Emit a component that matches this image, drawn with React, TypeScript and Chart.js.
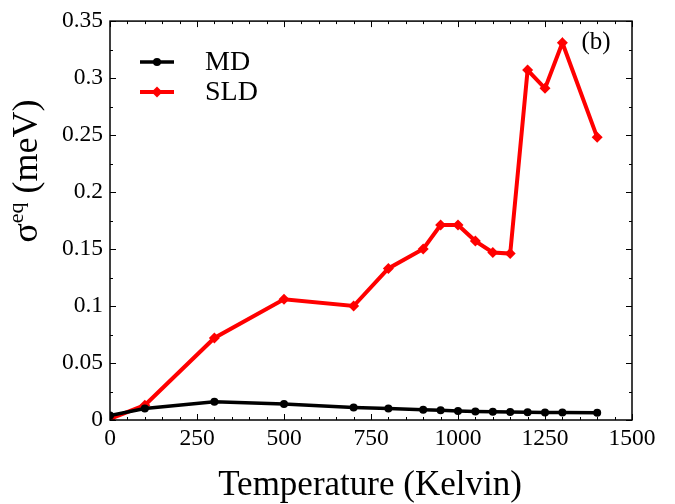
import React, { useEffect, useRef } from "react";
import { Chart, registerables } from "chart.js";

Chart.register(...registerables);

const temperatures = [0, 100, 300, 500, 700, 800, 900, 950, 1000, 1050, 1100, 1150, 1200, 1250, 1300, 1400];
const mdValues = [0.004, 0.010, 0.016, 0.014, 0.011, 0.010, 0.009, 0.0085, 0.008, 0.0075, 0.0072, 0.007, 0.0068, 0.0066, 0.0065, 0.0063];
const sldValues = [0.001, 0.013, 0.072, 0.106, 0.100, 0.133, 0.150, 0.171, 0.171, 0.157, 0.147, 0.146, 0.307, 0.291, 0.331, 0.248];
const xTicks = [0, 250, 500, 750, 1000, 1250, 1500];
const yTicks = [0, 0.05, 0.1, 0.15, 0.2, 0.25, 0.3, 0.35];
const seriesNames = ["MD", "SLD"];
const xTitle = "Temperature (Kelvin)";
const panelLabel = "(b)";

const FONT = "'Liberation Serif', 'Times New Roman', serif";

const framePlugin = {
  id: "frameAndText",
  afterDatasetsDraw(chart: any) {
    const { ctx, chartArea: a, scales } = chart;
    const xs = scales.x;
    const ys = scales.y;
    ctx.save();
    ctx.strokeStyle = "#000";
    ctx.lineWidth = 1.5;
    ctx.strokeRect(a.left, a.top, a.right - a.left, a.bottom - a.top);
    ctx.lineWidth = 1;
    for (let v = 0; v <= 1500; v += 50) {
      const px = Math.round(xs.getPixelForValue(v)) + 0.5;
      const len = v % 250 === 0 ? 6 : 3;
      ctx.beginPath();
      ctx.moveTo(px, a.bottom);
      ctx.lineTo(px, a.bottom - len);
      ctx.moveTo(px, a.top);
      ctx.lineTo(px, a.top + len);
      ctx.stroke();
    }
    for (let i = 0; i <= 14; i++) {
      const v = i * 0.025;
      const py = Math.round(ys.getPixelForValue(v)) + 0.5;
      const len = i % 2 === 0 ? 6 : 3;
      ctx.beginPath();
      ctx.moveTo(a.left, py);
      ctx.lineTo(a.left + len, py);
      ctx.moveTo(a.right, py);
      ctx.lineTo(a.right - len, py);
      ctx.stroke();
    }
    const ds = chart.data.datasets;
    const legendY = [62, 92];
    ds.forEach((d: any, i: number) => {
      const y = legendY[i];
      ctx.strokeStyle = d.borderColor;
      ctx.lineWidth = d.borderWidth;
      ctx.beginPath();
      ctx.moveTo(140, y);
      ctx.lineTo(174, y);
      ctx.stroke();
      ctx.fillStyle = d.borderColor;
      ctx.beginPath();
      if (d.pointStyle === "rectRot") {
        const r = d.pointRadius;
        ctx.moveTo(157, y - r);
        ctx.lineTo(157 + r, y);
        ctx.lineTo(157, y + r);
        ctx.lineTo(157 - r, y);
        ctx.closePath();
      } else {
        ctx.arc(157, y, d.pointRadius, 0, Math.PI * 2);
      }
      ctx.fill();
      ctx.fillStyle = "#000";
      ctx.font = `28px ${FONT}`;
      ctx.textBaseline = "middle";
      ctx.textAlign = "left";
      ctx.fillText(d.label, 205, y + 1);
    });
    ctx.font = `25px ${FONT}`;
    ctx.textAlign = "center";
    ctx.textBaseline = "alphabetic";
    ctx.fillStyle = "#000";
    ctx.fillText(panelLabel, 596, 49);
    ctx.font = `35px ${FONT}`;
    ctx.fillText(xTitle, (a.left + a.right) / 2 - 1, 495);
    ctx.translate(37, 171);
    ctx.rotate(-Math.PI / 2);
    const big = `36px ${FONT}`;
    const small = `22px ${FONT}`;
    ctx.font = big;
    const w1 = ctx.measureText("σ").width;
    const w3 = ctx.measureText(" (meV)").width;
    ctx.font = small;
    const w2 = ctx.measureText("eq").width;
    const x0 = -(w1 + w2 + w3) / 2;
    ctx.textAlign = "left";
    ctx.font = big;
    ctx.fillText("σ", x0, 0);
    ctx.font = small;
    ctx.fillText("eq", x0 + w1, -14);
    ctx.font = big;
    ctx.fillText(" (meV)", x0 + w1 + w2, 0);
    ctx.restore();
  },
};

export default function App() {
  const ref = useRef<HTMLCanvasElement>(null);
  useEffect(() => {
    const md = temperatures.map((t, i) => ({ x: t, y: mdValues[i] }));
    const sld = temperatures.map((t, i) => ({ x: t, y: sldValues[i] }));
    const chart = new Chart(ref.current!, {
      type: "line",
      data: {
        datasets: [
          {
            label: seriesNames[0],
            data: md,
            borderColor: "#000000",
            backgroundColor: "#000000",
            borderWidth: 3.5,
            pointStyle: "circle",
            pointRadius: 4,
            pointBorderWidth: 0,
            tension: 0,
          },
          {
            label: seriesNames[1],
            data: sld,
            borderColor: "#ff0000",
            backgroundColor: "#ff0000",
            borderWidth: 4,
            pointStyle: "rectRot",
            pointRadius: 5.5,
            pointBorderWidth: 0,
            tension: 0,
          },
        ],
      },
      options: {
        responsive: false,
        animation: false,
        events: [],
        layout: { padding: { top: 17, right: 43, left: 0, bottom: 0 } },
        plugins: { legend: { display: false }, tooltip: { enabled: false } },
        scales: {
          x: {
            type: "linear",
            min: 0,
            max: 1500,
            afterBuildTicks: (s: any) => {
              s.ticks = xTicks.map((v) => ({ value: v }));
            },
            afterFit: (s: any) => {
              s.height = 84;
            },
            ticks: {
              padding: 5,
              color: "#000",
              font: { family: FONT, size: 23.5 },
              maxRotation: 0,
              callback: (v: any) => String(v),
            },
            grid: { display: false, drawTicks: false },
            border: { display: false },
          },
          y: {
            type: "linear",
            min: 0,
            max: 0.35,
            afterBuildTicks: (s: any) => {
              s.ticks = yTicks.map((v) => ({ value: v }));
            },
            afterFit: (s: any) => {
              s.width = 110;
            },
            ticks: {
              padding: 7,
              color: "#000",
              font: { family: FONT, size: 23.5 },
              callback: (v: any) => String(parseFloat(Number(v).toFixed(3))),
            },
            grid: { display: false, drawTicks: false },
            border: { display: false },
          },
        },
      },
      plugins: [framePlugin],
    });
    return () => chart.destroy();
  }, []);
  return (
    <div style={{ position: "absolute", left: 0, top: 0, width: 675, height: 504, background: "#fff" }}>
      <canvas ref={ref} width={675} height={504} />
    </div>
  );
}
